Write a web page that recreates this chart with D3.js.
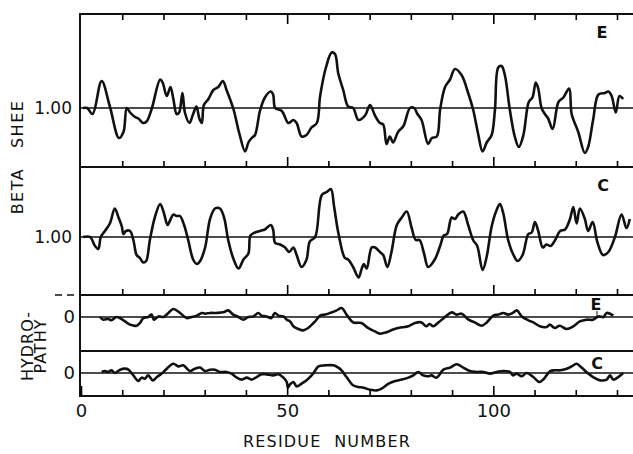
<!DOCTYPE html>
<html>
<head>
<meta charset="utf-8">
<script src="https://cdn.jsdelivr.net/npm/d3@7"></script>
<style>
  body { margin: 0; background: #fff; }
  text { font-family: "DejaVu Sans", sans-serif; fill: #111; }
</style>
</head>
<body>
<script>
// [residue, value] pairs
var betaE = [[0.5,1.00],[1.5,1.00],[2.8,0.96],[5.0,1.18],[7.0,1.01],[9.2,0.80],[10.3,0.84],[11.1,1.00],[11.9,0.97],[13.1,0.94],[13.9,0.93],[15.1,0.90],[15.9,0.91],[17.1,0.99],[19.2,1.19],[19.8,1.17],[20.8,1.08],[21.7,1.14],[22.4,1.06],[23.2,0.96],[23.8,0.97],[24.6,1.10],[25.2,0.97],[26.3,0.90],[27.2,0.96],[28.0,1.01],[28.7,0.93],[29.3,0.90],[29.8,1.02],[30.9,1.06],[32.1,1.12],[33.3,1.14],[34.4,1.18],[35.3,1.12],[37.0,0.99],[38.4,0.83],[39.8,0.71],[40.6,0.77],[41.4,0.80],[42.2,0.82],[43.4,0.98],[44.6,1.07],[46.0,1.11],[46.6,1.09],[47.1,1.00],[48.7,0.98],[50.3,0.90],[51.5,0.92],[52.3,0.90],[53.5,0.81],[54.7,0.82],[55.9,0.87],[57.2,0.90],[58.0,1.08],[59.4,1.27],[60.8,1.37],[61.6,1.36],[62.4,1.23],[63.6,1.12],[64.8,1.01],[66.0,1.00],[67.3,0.92],[68.9,0.95],[70.1,1.02],[71.3,0.95],[72.5,0.90],[73.3,0.89],[74.1,0.76],[74.9,0.81],[75.7,0.77],[76.9,0.84],[78.2,0.88],[79.8,1.00],[80.8,1.00],[81.6,0.96],[82.6,0.92],[84.2,0.76],[85.1,0.80],[86.3,0.81],[87.1,0.99],[88.3,1.14],[89.5,1.19],[90.7,1.26],[92.3,1.22],[93.9,1.10],[95.1,0.99],[96.3,0.83],[97.4,0.71],[98.4,0.77],[99.6,0.82],[100.4,0.99],[101.2,1.27],[102.0,1.28],[102.8,1.22],[104.0,0.99],[105.2,0.81],[106.2,0.74],[107.3,0.82],[108.6,1.04],[109.5,1.07],[110.3,1.17],[110.9,1.13],[111.7,1.00],[112.5,0.96],[113.3,0.93],[114.4,0.86],[115.8,1.04],[117.0,1.07],[118.4,1.13],[119.0,0.96],[120.6,0.84],[122.2,0.70],[123.0,0.74],[124.2,0.92],[125.5,1.09],[127.1,1.10],[127.9,1.11],[128.7,1.08],[129.7,0.97],[130.6,1.08],[131.5,1.06]];

var betaC = [[0.5,1.00],[2.2,1.00],[3.4,0.94],[4.2,0.92],[4.8,1.00],[5.8,1.04],[7.0,1.09],[8.2,1.19],[9.1,1.13],[9.9,1.07],[10.3,1.02],[10.9,1.04],[11.9,1.04],[12.7,0.98],[13.5,0.88],[14.3,0.86],[15.1,0.83],[15.8,0.84],[16.7,0.98],[17.9,1.13],[19.2,1.22],[20.0,1.17],[21.0,1.08],[21.6,1.11],[22.4,1.15],[23.2,1.14],[24.0,1.14],[25.0,1.08],[26.0,0.98],[27.2,0.85],[28.1,0.82],[28.9,0.84],[30.1,0.93],[31.3,1.12],[32.5,1.19],[33.7,1.19],[34.7,1.13],[35.7,0.98],[36.9,0.86],[38.2,0.79],[39.4,0.85],[40.6,0.89],[41.1,1.01],[42.2,1.03],[43.4,1.04],[44.6,1.05],[46.0,1.08],[46.6,1.05],[47.1,0.96],[48.3,0.95],[49.5,0.93],[50.5,0.90],[51.5,0.93],[52.3,0.88],[53.5,0.80],[54.7,0.85],[55.5,0.97],[56.8,1.00],[58.4,1.28],[59.6,1.30],[60.6,1.32],[61.4,1.20],[62.4,1.03],[64.0,0.86],[64.8,0.85],[66.0,0.80],[67.3,0.73],[68.1,0.79],[68.6,0.82],[69.3,0.79],[70.5,0.93],[71.3,0.93],[72.5,0.90],[73.3,0.88],[74.3,0.80],[75.3,0.90],[76.6,1.08],[77.8,1.13],[79.0,1.17],[80.2,1.06],[81.2,0.98],[82.1,0.98],[83.2,0.89],[84.2,0.80],[85.8,0.85],[87.1,0.94],[88.0,1.01],[88.8,1.02],[89.9,1.13],[90.7,1.12],[91.5,1.15],[92.7,1.17],[93.9,1.08],[95.1,0.98],[96.1,0.94],[97.4,0.78],[98.4,0.87],[99.6,1.07],[100.8,1.18],[101.6,1.22],[102.4,1.16],[103.6,0.98],[104.9,0.88],[105.9,0.84],[107.1,0.88],[108.5,1.02],[109.3,1.03],[110.1,1.10],[110.9,1.04],[112.0,0.93],[112.9,0.95],[113.9,0.94],[115.0,0.98],[116.2,1.04],[117.4,1.05],[118.6,1.12],[119.4,1.20],[120.2,1.09],[121.0,1.19],[122.2,1.12],[123.0,1.04],[124.1,1.10],[125.2,0.97],[126.6,0.88],[127.9,0.90],[129.5,1.00],[131.1,1.15],[132.3,1.06],[133.1,1.12]];

var hydroE = [[4.6,0.00],[5.4,-0.18],[6.6,-0.13],[7.4,-0.22],[8.6,0.00],[10.3,-0.22],[11.9,-0.51],[13.5,-0.58],[14.3,-0.40],[15.1,-0.07],[16.3,0.00],[17.1,0.16],[17.7,-0.18],[18.8,0.04],[20.0,0.00],[21.2,0.27],[22.4,0.53],[24.0,0.27],[25.6,-0.07],[26.8,0.00],[28.1,0.09],[29.3,0.27],[30.1,0.22],[31.3,0.27],[32.9,0.27],[34.5,0.31],[35.7,0.44],[36.9,0.16],[38.2,0.00],[39.4,-0.18],[40.6,0.00],[41.8,0.04],[43.0,0.27],[43.8,0.09],[45.0,0.04],[46.2,-0.07],[47.0,0.27],[47.9,0.09],[49.1,0.04],[49.9,-0.18],[50.7,-0.29],[51.5,-0.62],[52.7,-0.80],[53.9,-0.89],[55.1,-0.73],[56.8,-0.29],[58.0,0.09],[59.2,0.16],[60.4,0.27],[62.0,0.44],[63.2,0.60],[64.4,0.16],[66.0,-0.36],[68.0,-0.40],[69.6,-0.73],[71.3,-0.96],[72.5,-1.11],[74.1,-1.02],[75.7,-0.84],[77.8,-0.69],[79.4,-0.62],[81.0,-0.40],[82.6,-0.36],[83.7,-0.62],[84.6,-0.47],[85.4,-0.62],[86.7,-0.36],[88.3,0.00],[89.9,0.31],[91.1,0.16],[92.3,0.22],[94.0,-0.18],[95.5,-0.36],[97.2,-0.58],[98.4,-0.36],[100.0,0.09],[101.2,0.16],[102.4,0.27],[103.6,0.16],[104.7,0.27],[105.7,0.44],[106.9,0.04],[108.5,-0.22],[109.7,-0.36],[111.3,-0.62],[112.9,-0.67],[113.7,-0.51],[114.9,-0.73],[116.1,-0.58],[117.8,-0.80],[119.4,-0.62],[121.0,-0.29],[122.6,-0.18],[124.2,-0.18],[125.5,0.04],[126.7,0.00],[127.5,0.27],[128.3,0.22],[129.1,0.09]];

var hydroC = [[5.0,0.07],[5.8,0.13],[6.6,0.07],[7.4,0.18],[8.2,0.00],[9.5,0.22],[10.7,0.29],[11.5,0.22],[12.7,-0.16],[13.9,-0.53],[14.7,-0.31],[15.5,-0.38],[16.3,-0.16],[17.4,-0.49],[18.4,-0.27],[19.6,-0.04],[20.8,0.29],[22.4,0.62],[23.6,0.44],[24.8,0.51],[26.4,0.13],[27.6,0.29],[28.9,0.36],[30.1,0.13],[31.3,0.22],[32.5,0.22],[33.7,0.07],[35.3,0.07],[36.5,-0.04],[37.8,-0.31],[39.0,-0.44],[40.2,-0.31],[41.4,-0.44],[42.6,-0.27],[43.8,-0.09],[45.0,-0.09],[46.6,-0.16],[47.9,-0.09],[49.1,-0.31],[49.9,-0.60],[50.2,-0.98],[50.7,-0.76],[51.5,-0.60],[52.3,-0.89],[53.5,-0.71],[54.7,-0.49],[56.3,-0.04],[57.6,0.44],[59.2,0.51],[61.2,0.51],[62.4,0.36],[63.2,0.18],[64.4,-0.27],[66.0,-0.82],[67.3,-0.93],[68.5,-0.98],[70.1,-1.11],[71.7,-1.16],[72.9,-1.04],[74.6,-0.71],[76.2,-0.53],[77.8,-0.44],[79.4,-0.31],[80.6,-0.16],[81.8,0.07],[83.0,-0.16],[84.2,-0.22],[85.0,-0.16],[86.2,-0.31],[87.9,0.22],[89.5,0.36],[91.1,0.58],[92.7,0.36],[94.3,0.13],[95.9,0.07],[97.6,0.07],[99.2,-0.04],[100.8,0.07],[102.4,0.13],[104.0,0.07],[104.8,-0.16],[105.7,-0.04],[106.9,-0.22],[108.1,0.00],[109.7,-0.27],[111.2,-0.60],[112.3,-0.38],[113.8,0.13],[115.0,0.18],[116.2,0.18],[117.8,0.29],[119.0,0.44],[120.2,0.62],[121.4,0.36],[123.0,-0.04],[124.2,-0.27],[125.9,-0.49],[127.5,-0.44],[128.3,-0.16],[129.1,-0.44],[130.3,-0.27],[131.5,0.00]];

var xTicks = d3.range(10, 131, 10);
var xLabels = [0, 50, 100];

var width = 633, height = 454;

var svg = d3.select("body").append("svg")
    .attr("width", width)
    .attr("height", height);

var x = d3.scaleLinear().domain([0, 130]).range([81, 617]);

// one y scale per strip, 0.1 beta unit = 15px
var panels = [
  {data: betaE, ref: 1, y: d3.scaleLinear().domain([0.8, 1.2]).range([138, 78]), label: "E", lx: 602, ly: 38},
  {data: betaC, ref: 1, y: d3.scaleLinear().domain([0.8, 1.2]).range([267, 207]), label: "C", lx: 603, ly: 191},
  {data: hydroE, ref: 0, y: d3.scaleLinear().domain([-1, 1]).range([332, 302]), label: "E", lx: 596, ly: 310},
  {data: hydroC, ref: 0, y: d3.scaleLinear().domain([-1, 1]).range([388, 358]), label: "C", lx: 597, ly: 369}
];

// frame lines between strips
[14, 167, 295, 351, 396].forEach(function(yy) {
  svg.append("line")
    .attr("x1", 80).attr("x2", width)
    .attr("y1", yy).attr("y2", yy)
    .attr("stroke", "#111").attr("stroke-width", 2);
});

svg.append("line")
  .attr("x1", 80).attr("x2", 80)
  .attr("y1", 13).attr("y2", 397)
  .attr("stroke", "#111").attr("stroke-width", 2);

// little dashes left of the beta / hydropathy divide
svg.append("line")
  .attr("x1", 55).attr("x2", 78)
  .attr("y1", 295).attr("y2", 295)
  .attr("stroke", "#111").attr("stroke-width", 1.5)
  .attr("stroke-dasharray", "7,5");

var line = d3.line()
  .x(function(d) { return x(d[0]); })
  .curve(d3.curveCatmullRom.alpha(0.5));

panels.forEach(function(p) {
  // reference line (1.00 or 0)
  svg.append("line")
    .attr("x1", 80).attr("x2", width)
    .attr("y1", p.y(p.ref)).attr("y2", p.y(p.ref))
    .attr("stroke", "#111").attr("stroke-width", 1.6);

  svg.append("path")
    .datum(p.data)
    .attr("d", line.y(function(d) { return p.y(d[1]); }))
    .attr("fill", "none")
    .attr("stroke", "#111")
    .attr("stroke-width", 2.6)
    .attr("stroke-linejoin", "round");

  var ax = svg.append("g")
    .attr("transform", "translate(80,0)")
    .call(d3.axisLeft(p.y).tickValues([p.ref]).tickSize(0).tickPadding(p.ref === 1 ? 8 : 5)
      .tickFormat(p.ref === 1 ? d3.format(".2f") : d3.format("d")));
  ax.select(".domain").remove();
  ax.selectAll("text")
    .attr("font-size", p.ref === 1 ? 17 : 18)
    .style("font-family", "DejaVu Sans, sans-serif").attr("fill", "#111");

  svg.append("text")
    .attr("x", p.lx).attr("y", p.ly)
    .attr("text-anchor", "middle")
    .attr("font-size", 16)
    .attr("font-weight", "bold")
    .text(p.label);
});

// pointer from the hydropathy E label down to its curve
svg.append("line")
  .attr("x1", 597).attr("x2", 597)
  .attr("y1", 311).attr("y2", 317)
  .attr("stroke", "#111").attr("stroke-width", 1);

// tick rows
function tickRow(yy, dir) {
  var g = svg.append("g")
    .attr("transform", "translate(0," + yy + ")")
    .call(d3.axisBottom(x).tickValues(xTicks).tickSize(6 * dir).tickFormat(""));
  g.select(".domain").remove();
  g.selectAll(".tick line")
    .attr("stroke-width", 1.6)
    .attr("y2", function(d) { return (d % 50 === 0 ? 10 : 6) * dir; });
}
tickRow(14, 1);
tickRow(167, -1);
tickRow(295, -1);

var bottom = svg.append("g")
  .attr("transform", "translate(0,396)")
  .call(d3.axisBottom(x).tickValues([0].concat(xTicks)).tickSize(-6).tickPadding(8)
    .tickFormat(function(d) { return xLabels.indexOf(d) >= 0 ? d : ""; }));
bottom.select(".domain").remove();
bottom.selectAll(".tick line")
  .attr("stroke-width", 1.6)
  .attr("y2", function(d) { return d % 50 === 0 ? -10 : -6; });
bottom.selectAll("text").attr("font-size", 18).style("font-family", "DejaVu Sans, sans-serif").attr("fill", "#111");

svg.append("text")
  .attr("x", 327).attr("y", 447)
  .attr("text-anchor", "middle")
  .attr("font-size", 16)
  .attr("letter-spacing", 1.2)
  .style("white-space", "pre")
  .text("RESIDUE  NUMBER");

svg.append("text")
  .attr("transform", "translate(23,157) rotate(-90)")
  .attr("text-anchor", "middle")
  .attr("font-size", 16)
  .attr("letter-spacing", 1.5)
  .style("white-space", "pre")
  .text("BETA   SHEE");

svg.append("text")
  .attr("transform", "translate(33,346) rotate(-90)")
  .attr("text-anchor", "middle")
  .attr("font-size", 16)
  .attr("letter-spacing", 1)
  .text("HYDRO-");

svg.append("text")
  .attr("transform", "translate(46,346) rotate(-90)")
  .attr("text-anchor", "middle")
  .attr("font-size", 16)
  .attr("letter-spacing", 1)
  .text("PATHY");
</script>
</body>
</html>
